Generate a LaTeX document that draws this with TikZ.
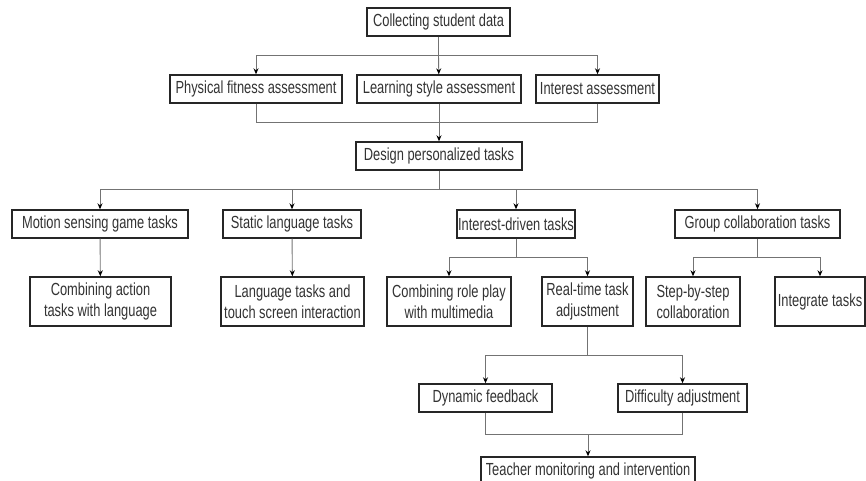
\documentclass[tikz,border=0pt]{standalone}
\usepackage{fontspec}
\setmainfont[FakeStretch=0.735]{Liberation Sans}
\usepackage{tikz}
\usetikzlibrary{arrows.meta}

\begin{document}
\begin{tikzpicture}[x=1pt,y=-1pt,
    box/.style={draw=black!85,line width=1.4pt,fill=white,inner sep=0pt,align=center,
      minimum height=28pt,text=black!80,font=\fontsize{17.5}{20.5}\selectfont},
    tallbox/.style={box,minimum height=49pt},
    link/.style={draw=black!55,line width=0.9pt},
    >={Stealth[length=6pt,width=5pt,black]}]
  \useasboundingbox (0,0) rectangle (866,481);
  % top levels
  \node[box,minimum width=143pt] (collect) at (438.5,22) {Collecting student data};
  \node[box,minimum width=172pt] (phys) at (256,89) {Physical fitness assessment};
  \node[box,minimum width=164pt] (learn) at (439,89) {Learning style assessment};
  \node[box,minimum width=123pt] (inter) at (597.5,89) {Interest assessment};
  \node[box,minimum width=166pt] (design) at (439,156) {Design personalized tasks};
  % task types
  \node[box,minimum width=176pt] (motion) at (100,224) {Motion sensing game tasks};
  \node[box,minimum width=138pt] (static) at (292,224) {Static language tasks};
  \node[box,minimum width=118pt] (idriven) at (516,224) {Interest-driven tasks};
  \node[box,minimum width=165pt] (group) at (757.5,224) {Group collaboration tasks};
  \node[tallbox,minimum width=141pt] (action) at (100.5,301.5) {Combining action\\tasks with language};
  \node[tallbox,minimum width=143pt] (lang) at (292.5,301.5) {Language tasks and\\touch screen interaction};
  \node[tallbox,minimum width=124pt] (role) at (449,301.5) {Combining role play\\with multimedia};
  \node[tallbox,minimum width=91pt] (realtime) at (587.5,301.5) {Real-time task\\adjustment};
  \node[tallbox,minimum width=94pt] (stepcol) at (693,301.5) {Step-by-step\\collaboration};
  \node[tallbox,minimum width=90pt] (integ) at (820,301.5) {Integrate tasks};
  % adjustment
  \node[box,minimum width=133pt] (dyn) at (485.5,398) {Dynamic feedback};
  \node[box,minimum width=129pt] (diff) at (682.5,398) {Difficulty adjustment};
  \node[box,minimum width=214pt] (teacher) at (588,471) {Teacher monitoring and intervention};
  % junctions
  \coordinate (j1) at (438.5,55);
  \coordinate (j2) at (439,122);
  \coordinate (j3) at (439,189);
  \coordinate (j4) at (516,257);
  \coordinate (j5) at (757.5,257);
  \coordinate (j6) at (587.5,355);
  \coordinate (j7) at (588,434);
  % connectors
  \draw[link] (collect) -- (j1);
  \draw[link,->] (j1) -| (phys);
  \draw[link,->] (j1) -| (inter);
  \draw[link,->] (j1) -- (learn);
  \draw[link] (phys) |- (j2);
  \draw[link] (inter) |- (j2);
  \draw[link] (learn) -- (j2);
  \draw[link,->] (j2) -- (design);
  \draw[link] (design) -- (j3);
  \draw[link,->] (j3) -| (motion);
  \draw[link,->] (j3) -| (static);
  \draw[link,->] (j3) -| (idriven);
  \draw[link,->] (j3) -| (group);
  \draw[link,->] (motion) -- (action);
  \draw[link,->] (static) -- (lang);
  \draw[link] (idriven) -- (j4);
  \draw[link,->] (j4) -| (role);
  \draw[link,->] (j4) -| (realtime);
  \draw[link] (group) -- (j5);
  \draw[link,->] (j5) -| (stepcol);
  \draw[link,->] (j5) -| (integ);
  \draw[link] (realtime) -- (j6);
  \draw[link,->] (j6) -| (dyn);
  \draw[link,->] (j6) -| (diff);
  \draw[link] (dyn) |- (j7);
  \draw[link] (diff) |- (j7);
  \draw[link,->] (j7) -- (teacher);
\end{tikzpicture}
\end{document}
